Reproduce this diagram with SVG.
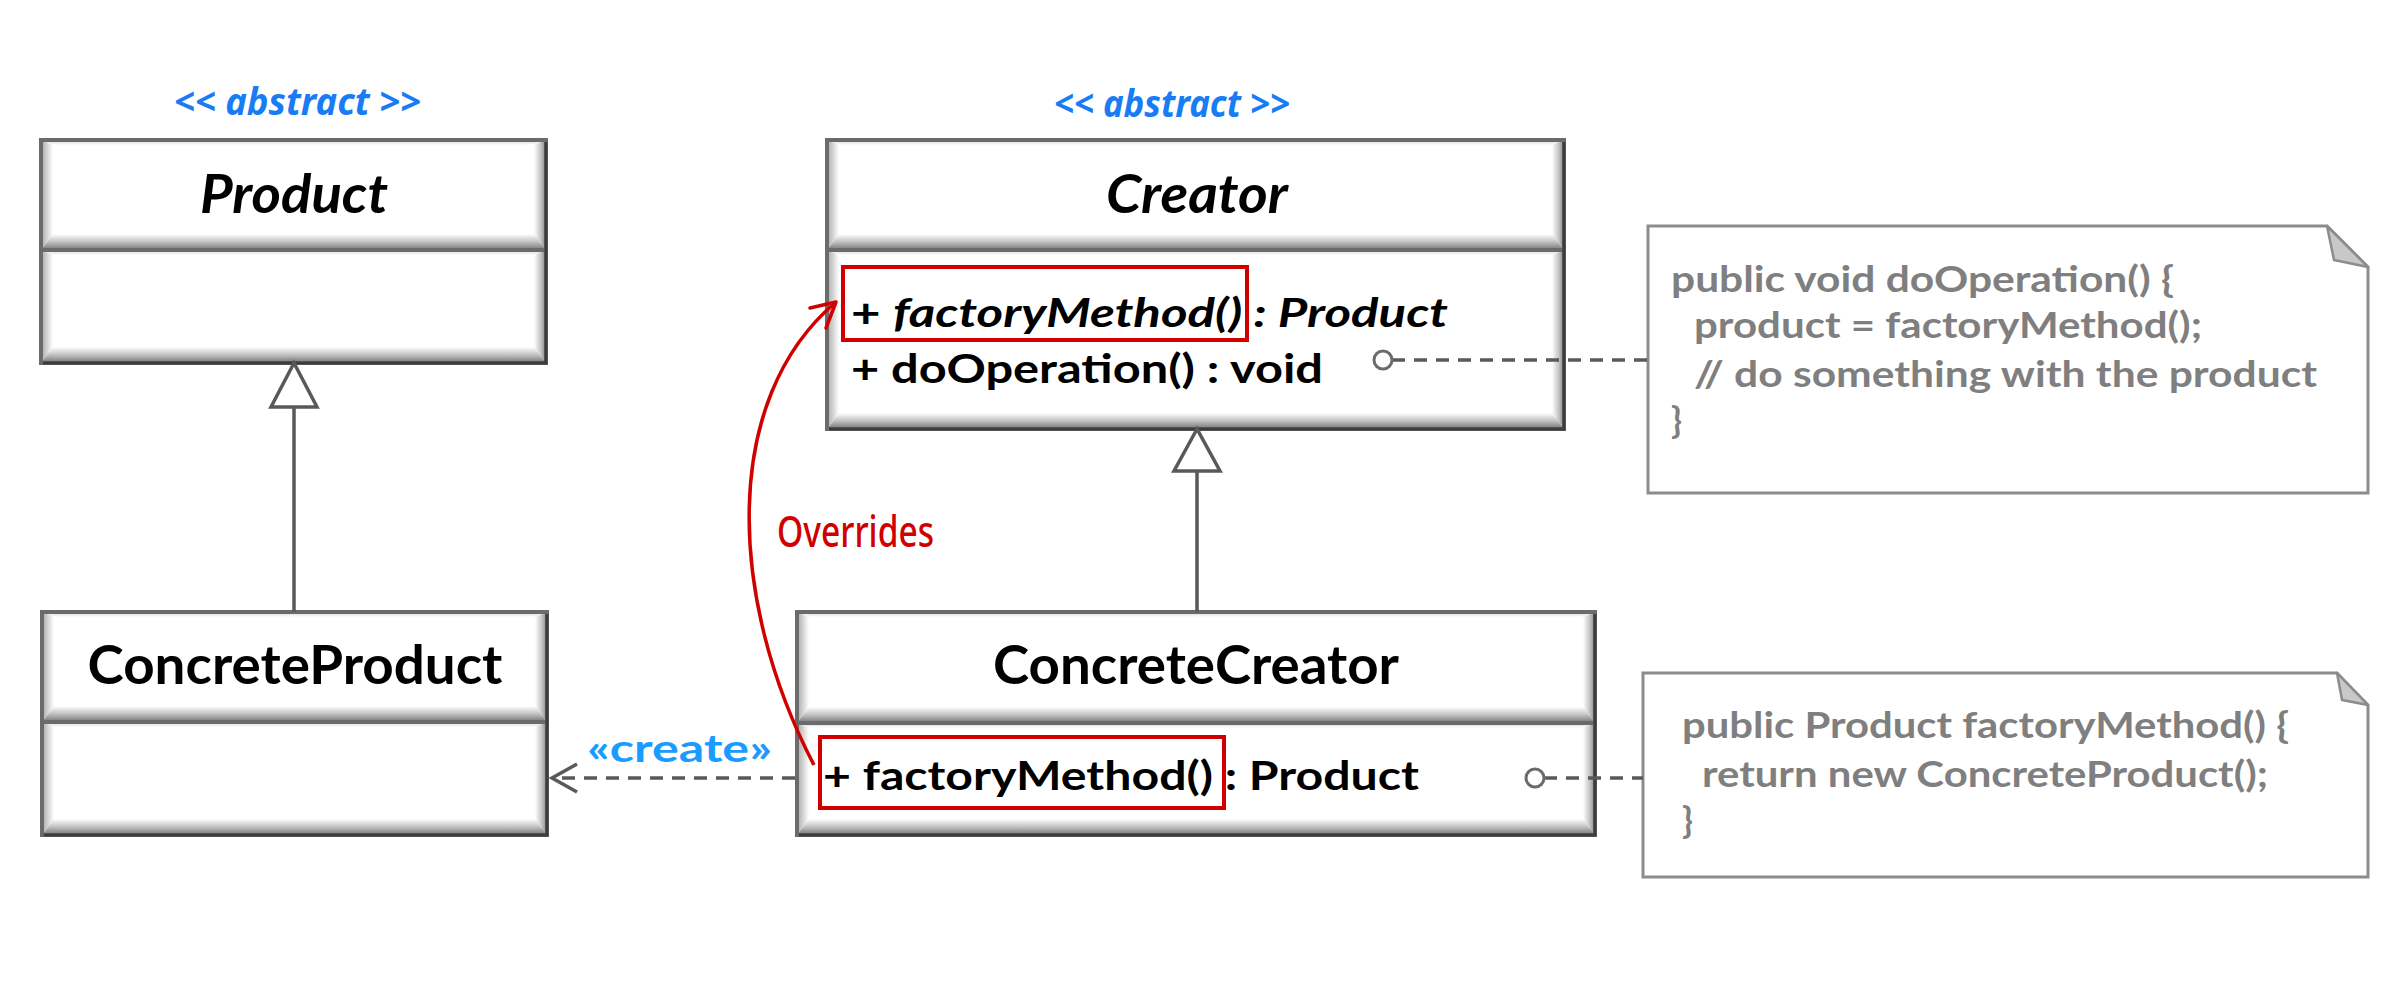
<svg xmlns="http://www.w3.org/2000/svg" width="2399" height="999" viewBox="0 0 2399 999">
<defs>
<linearGradient id="gT" x1="0" y1="1" x2="0" y2="0"><stop offset="0" stop-color="#ffffff"/><stop offset="1" stop-color="#d4d4d4"/></linearGradient>
<linearGradient id="gB" x1="0" y1="0" x2="0" y2="1"><stop offset="0" stop-color="#ffffff"/><stop offset="0.5" stop-color="#c0c0c0"/><stop offset="1" stop-color="#747474"/></linearGradient>
<linearGradient id="gL" x1="1" y1="0" x2="0" y2="0"><stop offset="0" stop-color="#ffffff"/><stop offset="1" stop-color="#a8a8a8"/></linearGradient>
<linearGradient id="gR" x1="0" y1="0" x2="1" y2="0"><stop offset="0" stop-color="#ffffff"/><stop offset="0.6" stop-color="#c0c0c0"/><stop offset="1" stop-color="#808080"/></linearGradient>
</defs>
<style>
.bt{fill:url(#gT)} .bb{fill:url(#gB)} .bl{fill:url(#gL)} .br{fill:url(#gR)}
.frame{fill:none;stroke:#6b6b6b;stroke-width:4}
.shade{fill:none;stroke:#3c3c3c;stroke-width:3}
.title{font-family:Lato,"Open Sans",sans-serif;font-weight:700;font-size:54px;fill:#000}
.attr{font-family:Lato,"Open Sans",sans-serif;font-weight:700;font-size:40px;fill:#000}
.note{fill:#ffffff;stroke:#8c8c8c;stroke-width:3}
.fold{fill:#c8c8c8;stroke:#8c8c8c;stroke-width:2.5;stroke-linejoin:round}
.ntext{font-family:Lato,"Open Sans",sans-serif;font-weight:700;font-size:36px;fill:#7f7f7f}
.hl{fill:none;stroke:#d00000;stroke-width:4}
.line{fill:none;stroke:#595959;stroke-width:3.5}
.dash{fill:none;stroke:#595959;stroke-width:3.5;stroke-dasharray:13 9}
.tri{fill:#ffffff;stroke:#595959;stroke-width:3.5;stroke-linejoin:miter}
.lolly{fill:#ffffff;stroke:#6b6b6b;stroke-width:3}
.abs{font-family:"Noto Sans",sans-serif;font-weight:700;font-style:italic;font-size:38px;fill:#1a7cf5}
</style>
<rect width="2399" height="999" fill="#ffffff"/>

<g id="product">
<rect x="41" y="140" width="505" height="223" fill="#ffffff"/>
<polygon class="bt" points="41,140 546,140 534,145 53,145"/>
<polygon class="bl" points="41,140 53,145 53,234 41,250"/>
<polygon class="br" points="546,140 534,145 534,234 546,250"/>
<polygon class="bb" points="41,250 53,234 534,234 546,250"/>
<polygon class="bt" points="41,250 546,250 534,255 53,255"/>
<polygon class="bl" points="41,250 53,255 53,347 41,363"/>
<polygon class="br" points="546,250 534,255 534,347 546,363"/>
<polygon class="bb" points="41,363 53,347 534,347 546,363"/>
<rect class="frame" x="41" y="140" width="505" height="223"/>
<line class="frame" x1="41" y1="250" x2="546" y2="250"/>
<polyline class="shade" points="546,142 546,363 43,363"/>
<text class="title" x="294" y="213" text-anchor="middle" font-style="italic" textLength="188" lengthAdjust="spacingAndGlyphs">Product</text>
<text class="abs" x="174" y="115" textLength="247" lengthAdjust="spacingAndGlyphs">&lt;&lt; abstract &gt;&gt;</text>
</g>

<g id="creator">
<rect x="827" y="140" width="737" height="289" fill="#ffffff"/>
<polygon class="bt" points="827,140 1564,140 1552,145 839,145"/>
<polygon class="bl" points="827,140 839,145 839,234 827,250"/>
<polygon class="br" points="1564,140 1552,145 1552,234 1564,250"/>
<polygon class="bb" points="827,250 839,234 1552,234 1564,250"/>
<polygon class="bt" points="827,250 1564,250 1552,255 839,255"/>
<polygon class="bl" points="827,250 839,255 839,413 827,429"/>
<polygon class="br" points="1564,250 1552,255 1552,413 1564,429"/>
<polygon class="bb" points="827,429 839,413 1552,413 1564,429"/>
<rect class="frame" x="827" y="140" width="737" height="289"/>
<line class="frame" x1="827" y1="250" x2="1564" y2="250"/>
<polyline class="shade" points="1564,142 1564,429 829,429"/>
<text class="title" x="1197" y="213" text-anchor="middle" font-style="italic" textLength="182" lengthAdjust="spacingAndGlyphs">Creator</text>
<text class="attr" x="851" y="327" textLength="597" lengthAdjust="spacingAndGlyphs">+ <tspan font-style="italic">factoryMethod() : Product</tspan></text>
<text class="attr" x="851" y="383" textLength="472" lengthAdjust="spacingAndGlyphs">+ doOperation() : void</text>
<rect class="hl" x="843" y="267" width="404" height="73"/>
<text class="abs" x="1054" y="117" textLength="236" lengthAdjust="spacingAndGlyphs">&lt;&lt; abstract &gt;&gt;</text>
</g>

<g id="concreteproduct">
<rect x="42" y="612" width="505" height="223" fill="#ffffff"/>
<polygon class="bt" points="42,612 547,612 535,617 54,617"/>
<polygon class="bl" points="42,612 54,617 54,706 42,722"/>
<polygon class="br" points="547,612 535,617 535,706 547,722"/>
<polygon class="bb" points="42,722 54,706 535,706 547,722"/>
<polygon class="bt" points="42,722 547,722 535,727 54,727"/>
<polygon class="bl" points="42,722 54,727 54,819 42,835"/>
<polygon class="br" points="547,722 535,727 535,819 547,835"/>
<polygon class="bb" points="42,835 54,819 535,819 547,835"/>
<rect class="frame" x="42" y="612" width="505" height="223"/>
<line class="frame" x1="42" y1="722" x2="547" y2="722"/>
<polyline class="shade" points="547,614 547,835 44,835"/>
<text class="title" x="295" y="684" text-anchor="middle" textLength="415" lengthAdjust="spacingAndGlyphs">ConcreteProduct</text>
</g>

<g id="concretecreator">
<rect x="797" y="612" width="798" height="223" fill="#ffffff"/>
<polygon class="bt" points="797,612 1595,612 1583,617 809,617"/>
<polygon class="bl" points="797,612 809,617 809,707 797,723"/>
<polygon class="br" points="1595,612 1583,617 1583,707 1595,723"/>
<polygon class="bb" points="797,723 809,707 1583,707 1595,723"/>
<polygon class="bt" points="797,723 1595,723 1583,728 809,728"/>
<polygon class="bl" points="797,723 809,728 809,819 797,835"/>
<polygon class="br" points="1595,723 1583,728 1583,819 1595,835"/>
<polygon class="bb" points="797,835 809,819 1583,819 1595,835"/>
<rect class="frame" x="797" y="612" width="798" height="223"/>
<line class="frame" x1="797" y1="723" x2="1595" y2="723"/>
<polyline class="shade" points="1595,614 1595,835 799,835"/>
<text class="title" x="1196" y="684" text-anchor="middle" textLength="406" lengthAdjust="spacingAndGlyphs">ConcreteCreator</text>
<text class="attr" x="823" y="790" textLength="596" lengthAdjust="spacingAndGlyphs">+ factoryMethod() : Product</text>
<rect class="hl" x="820" y="737" width="404" height="71"/>
</g>

<g id="note1">
<polygon class="note" points="1648,226 2327,226 2368,267 2368,493 1648,493"/>
<polygon class="fold" points="2327,226 2368,267 2334,260"/>
<text class="ntext" x="1671" y="292" textLength="503" lengthAdjust="spacingAndGlyphs">public void doOperation() {</text>
<text class="ntext" x="1694" y="338" textLength="508" lengthAdjust="spacingAndGlyphs">product = factoryMethod();</text>
<text class="ntext" x="1694" y="387" textLength="623" lengthAdjust="spacingAndGlyphs">// do something with the product</text>
<text class="ntext" x="1671" y="433">}</text>
</g>

<g id="note2">
<polygon class="note" points="1643,673 2337,673 2368,705 2368,877 1643,877"/>
<polygon class="fold" points="2337,673 2368,705 2342,700"/>
<text class="ntext" x="1682" y="738" textLength="607" lengthAdjust="spacingAndGlyphs">public Product factoryMethod() {</text>
<text class="ntext" x="1702" y="787" textLength="566" lengthAdjust="spacingAndGlyphs">return new ConcreteProduct();</text>
<text class="ntext" x="1682" y="833">}</text>
</g>

<g id="connectors">
<line class="line" x1="294" y1="612" x2="294" y2="407"/>
<polygon class="tri" points="294,363 271,407 317,407"/>
<line class="line" x1="1197" y1="612" x2="1197" y2="471"/>
<polygon class="tri" points="1197,429 1174,471 1220,471"/>
<line class="dash" x1="795" y1="778" x2="554" y2="778"/>
<polyline class="line" points="577,764 552,778 577,792"/>
<text x="587" y="762" font-family="Lato,'Open Sans',sans-serif" font-weight="700" font-size="39" fill="#1a9bff" textLength="185" lengthAdjust="spacingAndGlyphs">«create»</text>
<line class="dash" x1="1392" y1="360" x2="1648" y2="360"/>
<circle class="lolly" cx="1383" cy="360" r="9"/>
<line class="dash" x1="1544" y1="778" x2="1643" y2="778"/>
<circle class="lolly" cx="1535" cy="778" r="9"/>
<path d="M814,765 C728,600 720,400 836,302" fill="none" stroke="#d00000" stroke-width="3.5"/>
<path d="M810,308 L836,302 L826,328" fill="none" stroke="#d00000" stroke-width="3.5" stroke-linecap="round" stroke-linejoin="round"/>
<text x="777" y="547" font-family="'Noto Sans',sans-serif" font-weight="500" font-size="44" fill="#d00000" textLength="157" lengthAdjust="spacingAndGlyphs">Overrides</text>
</g>
</svg>
